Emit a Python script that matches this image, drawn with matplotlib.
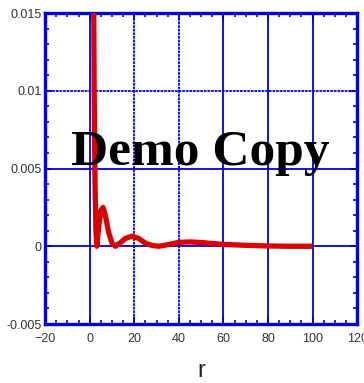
import numpy as np
import matplotlib.pyplot as plt

r = [1.8, 2.0, 2.4, 2.8, 3.2, 4.0, 5.0, 6.0, 7.0, 8.5, 10.0, 11.5, 13.5, 16, 19, 22, 25, 28, 31,
     35, 40, 45, 50, 55, 60, 70, 80, 90, 100]
g = [0.016, 0.010, 0.004, 0.001, 0.0, 0.0012, 0.0023, 0.0025, 0.0020, 0.0009, 0.0002, 0.0, 0.0002,
     0.0005, 0.00065, 0.0005, 0.0002, 0.00005, 0.0, 0.0001, 0.00025, 0.00028, 0.00024, 0.00018,
     0.00012, 0.00006, 0.00002, 0.0, 0.0]

solid_x = [0, 60, 80, 100]
dashed_x = [20, 40]
solid_y = [0.005, 0.0]
dashed_y = [0.01]

xticks = np.arange(-20, 121, 20)
yticks = [-0.005, 0, 0.005, 0.01, 0.015]
ytick_labels = ['-0.005', '0', '0.005', '0.01', '0.015']

blue = '#0000dd'

plt.rcParams['font.family'] = ['Liberation Sans', 'DejaVu Sans']
fig = plt.figure(figsize=(3.64, 3.83), dpi=100, facecolor='w')
ax = fig.add_axes([0.124, 0.154, 0.857, 0.812])

for x in solid_x:
    ax.axvline(x, color=blue, lw=1.3, zorder=1)
for x in dashed_x:
    ax.axvline(x, color=blue, lw=1.3, ls=(0, (1.5, 0.5)), zorder=1)
for y in solid_y:
    ax.axhline(y, color=blue, lw=1.3, zorder=1)
for y in dashed_y:
    ax.axhline(y, color=blue, lw=1.3, ls=(0, (1.5, 0.5)), zorder=1)

ax.plot(r, g, color='#dd0000', lw=3.8, solid_capstyle='butt', zorder=3)

ax.set_xlim(-20, 120)
ax.set_ylim(-0.005, 0.015)
ax.set_xticks(xticks)
ax.set_yticks(yticks)
ax.set_yticklabels(ytick_labels)
ax.xaxis.set_minor_locator(plt.MultipleLocator(5))
ax.yaxis.set_minor_locator(plt.MultipleLocator(0.001))
ax.tick_params(which='both', direction='in', top=True, right=True, color=blue,
               labelsize=9, labelcolor='#333333')
ax.tick_params(which='major', length=5, width=1.3, pad=6.5)
ax.tick_params(axis='y', which='major', pad=2.5)
ax.tick_params(which='minor', length=3, width=1.2)
for s in ax.spines.values():
    s.set_color(blue)
    s.set_linewidth(2.4)

ax.set_xlabel('r', fontsize=17, labelpad=11, color='#222222')

fig.text(0.55, 0.6, 'Demo Copy', family='Liberation Serif', weight='bold', fontsize=37,
         ha='center', va='center', color='black', zorder=5)

plt.savefig('out.png')
